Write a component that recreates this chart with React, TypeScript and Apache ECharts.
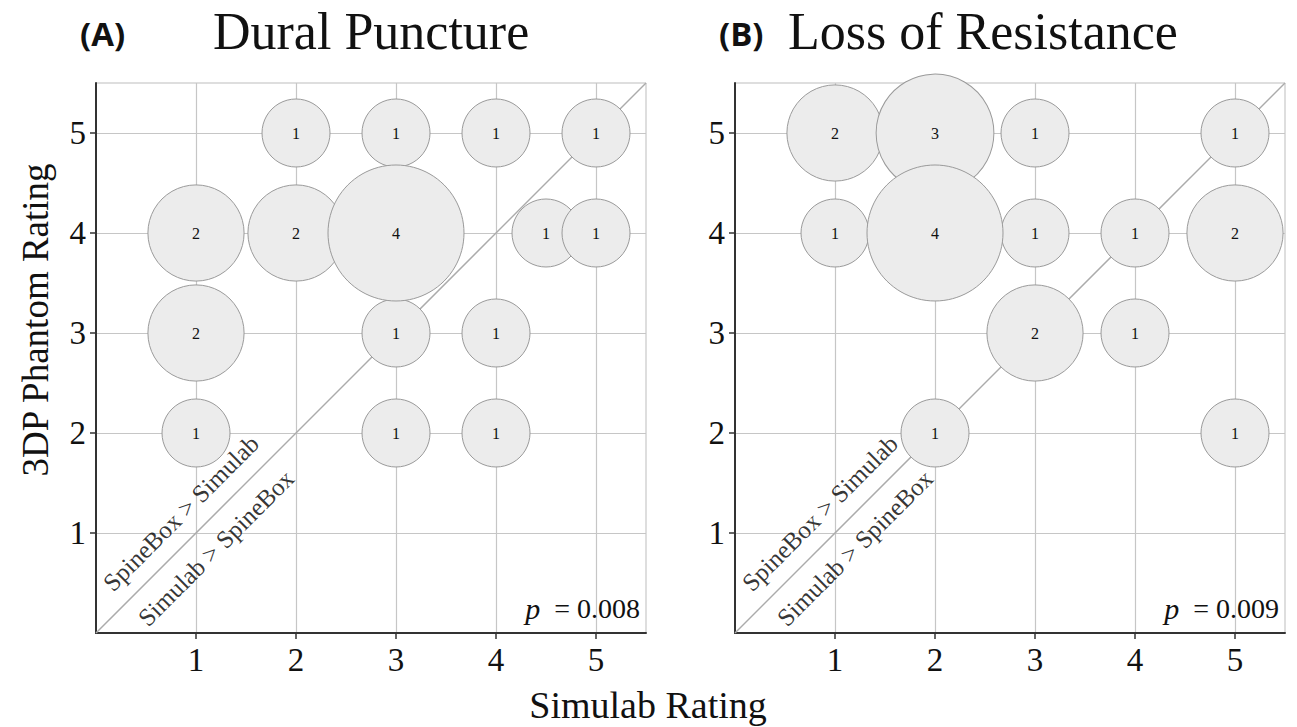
import React, { useEffect, useRef } from "react";
import * as echarts from "echarts";

// ---- data ----
const ratingTicks = [1, 2, 3, 4, 5];

const duralSimulab = [2, 3, 4, 5, 1, 2, 3, 4.5, 5, 1, 3, 4, 1, 3, 4];
const duralPhantom = [5, 5, 5, 5, 4, 4, 4, 4, 4, 3, 3, 3, 2, 2, 2];
const duralCount = [1, 1, 1, 1, 2, 2, 4, 1, 1, 2, 1, 1, 1, 1, 1];

const lorSimulab = [1, 2, 3, 5, 1, 2, 3, 4, 5, 3, 4, 2, 5];
const lorPhantom = [5, 5, 5, 5, 4, 4, 4, 4, 4, 3, 3, 2, 2];
const lorCount = [2, 3, 1, 1, 1, 4, 1, 1, 2, 2, 1, 1, 1];

const panelLetters = ["(A)", "(B)"];
const panelTitles = ["Dural Puncture", "Loss of Resistance"];
const pValues = ["0.008", "0.009"];
const upperLabel = "SpineBox > Simulab";
const lowerLabel = "Simulab > SpineBox";
const xName = "Simulab Rating";
const yName = "3DP Phantom Rating";

// ---- layout ----
const W = 1297;
const H = 727;
const GRID_TOP = 83;
const GRID_SIZE = 550;
const GRID_LEFTS = [96, 735];
const AXIS_MAX = 5.5;
const SERIF = "'Liberation Serif', 'Times New Roman', serif";

function buildPanel(i: number, xs: number[], ys: number[], ns: number[]) {
  const pts = xs.map((x, k) => [x, ys[k], ns[k], k]);
  pts.sort((a, b) => a[2] - b[2] || a[3] - b[3]);
  const data = pts.map((p) => [p[0], p[1], p[2]]);
  return [
    {
      type: "line",
      xAxisIndex: i,
      yAxisIndex: i,
      data: [
        [0, 0],
        [AXIS_MAX, AXIS_MAX],
      ],
      symbol: "none",
      silent: true,
      z: 1,
      lineStyle: { color: "#ababab", width: 1.5 },
    },
    {
      type: "scatter",
      xAxisIndex: i,
      yAxisIndex: i,
      data,
      clip: false,
      z: 3,
      symbolSize: (v: number[]) => 68 * Math.sqrt(v[2]),
      itemStyle: {
        color: "#ececec",
        borderColor: "#9a9a9a",
        borderWidth: 1,
        opacity: 1,
      },
      label: {
        show: true,
        position: "inside",
        formatter: (p: any) => String(p.value[2]),
        fontFamily: SERIF,
        fontSize: 16,
        color: "#111111",
      },
    },
    {
      type: "scatter",
      xAxisIndex: i,
      yAxisIndex: i,
      silent: true,
      z: 4,
      symbolSize: 1,
      itemStyle: { color: "rgba(0,0,0,0)" },
      data: [
        { value: [0.85, 1.2], name: upperLabel },
        { value: [1.2, 0.85], name: lowerLabel },
      ],
      label: {
        show: true,
        position: "inside",
        rotate: 45,
        formatter: (p: any) => p.name,
        fontFamily: SERIF,
        fontSize: 25,
        color: "#000000",
      },
    },
  ];
}

export default function App() {
  const ref = useRef<HTMLDivElement>(null);
  useEffect(() => {
    if (!ref.current) return;
    const chart = echarts.init(ref.current, undefined, { renderer: "svg" });

    const grids = GRID_LEFTS.map((left) => ({
      left,
      top: GRID_TOP,
      width: GRID_SIZE,
      height: GRID_SIZE,
      show: true,
      borderColor: "#bdbdbd",
      borderWidth: 1,
      backgroundColor: "transparent",
    }));

    const axisCommon = {
      type: "value",
      min: 0,
      max: AXIS_MAX,
      interval: 1,
      axisLine: { show: true, onZero: false, lineStyle: { color: "#333", width: 2 } },
      axisTick: {
        show: true,
        length: 6,
        customValues: ratingTicks,
        lineStyle: { color: "#333", width: 1.5 },
      },
      splitLine: { show: true, lineStyle: { color: "#c6c6c6", width: 1.2 } },
      axisLabel: {
        customValues: ratingTicks,
        fontFamily: SERIF,
        fontSize: 33,
        color: "#111",
        margin: 10,
        formatter: (v: number) => String(v),
      },
    };

    const xAxes = GRID_LEFTS.map((_, i) => ({ ...axisCommon, gridIndex: i }));
    const yAxes = GRID_LEFTS.map((_, i) => ({ ...axisCommon, gridIndex: i }));

    const series = [
      ...buildPanel(0, duralSimulab, duralPhantom, duralCount),
      ...buildPanel(1, lorSimulab, lorPhantom, lorCount),
    ];

    const graphic: any[] = [];
    GRID_LEFTS.forEach((left, i) => {
      graphic.push({
        type: "text",
        x: left - 16,
        y: 33,
        style: {
          text: panelLetters[i],
          font: "bold 33px 'Open Sans', 'DejaVu Sans', sans-serif",
          fill: "#111",
          align: "left",
          verticalAlign: "middle",
        },
      });
      graphic.push({
        type: "text",
        x: left + (i === 0 ? 117 : 53),
        y: 31,
        style: {
          text: panelTitles[i],
          font: "52px " + SERIF,
          fill: "#111",
          align: "left",
          verticalAlign: "middle",
        },
      });
      graphic.push({
        type: "text",
        x: left + GRID_SIZE - 6,
        y: GRID_TOP + GRID_SIZE - 25,
        z: 10,
        style: {
          text: "{i|p}{n|  = " + pValues[i] + "}",
          align: "right",
          verticalAlign: "middle",
          rich: {
            i: { fontFamily: SERIF, fontStyle: "italic", fontSize: 30, fill: "#111" },
            n: { fontFamily: SERIF, fontSize: 28, fill: "#111" },
          },
        },
      });
    });
    graphic.push({
      type: "text",
      x: 648,
      y: 705,
      style: {
        text: xName,
        font: "38px " + SERIF,
        fill: "#111",
        align: "center",
        verticalAlign: "middle",
      },
    });
    graphic.push({
      type: "text",
      x: 35,
      y: 320,
      rotation: Math.PI / 2,
      style: {
        text: yName,
        font: "37px " + SERIF,
        fill: "#111",
        align: "center",
        verticalAlign: "middle",
      },
    });

    chart.setOption({
      animation: false,
      backgroundColor: "#ffffff",
      grid: grids,
      xAxis: xAxes,
      yAxis: yAxes,
      series,
      graphic,
    });
    return () => chart.dispose();
  }, []);

  return (
    <div
      ref={ref}
      style={{ position: "fixed", left: 0, top: 0, width: W, height: H }}
    />
  );
}
